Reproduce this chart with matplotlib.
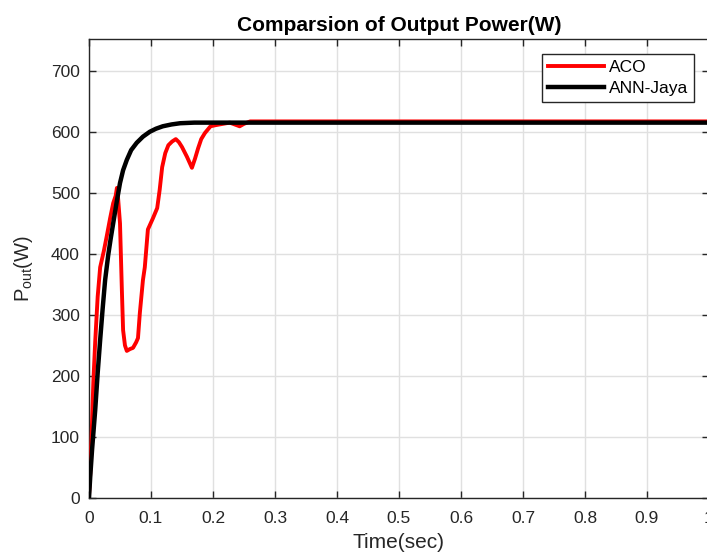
import numpy as np
import matplotlib
matplotlib.use("Agg")
import matplotlib.pyplot as plt

plt.rcParams['font.family'] = ['Liberation Sans', 'DejaVu Sans']

# ACO response
aco_t = [0.0, 0.002, 0.004, 0.007, 0.010, 0.014, 0.018, 0.024, 0.029, 0.034, 0.039, 0.043,
         0.045, 0.047, 0.050, 0.053, 0.055, 0.058, 0.061, 0.066, 0.071, 0.076, 0.079, 0.082,
         0.087, 0.090, 0.095, 0.103, 0.110, 0.114, 0.118, 0.123, 0.128, 0.134, 0.140, 0.145,
         0.150, 0.158, 0.166, 0.171, 0.176, 0.181, 0.187, 0.196, 0.205, 0.216, 0.227, 0.235,
         0.243, 0.250, 0.260, 0.280, 0.320, 0.400, 0.600, 0.800, 1.0]
aco_p = [5, 40, 95, 190, 256, 330, 378, 405, 431, 458, 483, 495,
         508, 490, 450, 341, 275, 250, 241, 244, 246, 255, 262, 303,
         357, 378, 440, 458, 475, 505, 542, 565, 578, 584, 588, 583,
         575, 559, 541, 556, 573, 588, 598, 609, 611, 613, 615, 612,
         609, 613, 617, 617, 617, 617, 617, 617, 617]

# ANN-Jaya response
ann_t = [0.0, 0.002, 0.005, 0.010, 0.014, 0.018, 0.022, 0.026, 0.031, 0.035, 0.039, 0.045,
         0.050, 0.055, 0.061, 0.068, 0.077, 0.087, 0.098, 0.108, 0.119, 0.133, 0.147, 0.170,
         0.200, 0.250, 0.300, 0.500, 0.700, 1.0]
ann_p = [0, 35, 80, 144, 205, 259, 310, 357, 398, 425, 450, 487,
         516, 537, 554, 570, 582, 592, 600, 605, 609, 612, 614, 615,
         615, 615, 615, 615, 615, 615]

fig = plt.figure(figsize=(7.07, 5.54), dpi=100)
ax = fig.add_axes([89 / 707, 1 - 498 / 554, 620 / 707, 459 / 554])

ax.plot(aco_t, aco_p, color='#ff0000', lw=2.8, label='ACO', zorder=3)
ax.plot(ann_t, ann_p, color='black', lw=3.2, label='ANN-Jaya', zorder=4)

ax.set_xlim(0, 1)
ax.set_ylim(0, 752)
ax.set_xticks(np.arange(0, 1.01, 0.1))
ax.set_xticklabels(['0', '0.1', '0.2', '0.3', '0.4', '0.5', '0.6', '0.7', '0.8', '0.9', '1'])
ax.set_yticks(range(0, 701, 100))
ax.grid(True, color='#e0e0e0', lw=1.0)
ax.set_axisbelow(True)
ax.tick_params(direction='in', top=True, right=True, labelsize=12.5,
               colors='#262626', length=5, width=1)
ax.tick_params(axis='x', pad=9.5)
ax.tick_params(axis='y', pad=6.5)
for s in ax.spines.values():
    s.set_color('#262626')
    s.set_linewidth(1)

ax.set_title('Comparsion of Output Power(W)', fontsize=15, fontweight='bold', pad=6)
ax.set_xlabel('Time(sec)', fontsize=15, color='#262626', labelpad=5)
ax.set_ylabel(r'P$_{\mathregular{out}}$(W)', fontsize=14.5, color='#262626')
ax.yaxis.set_label_coords(-0.087, 0.5)

leg = ax.legend(loc='upper left', bbox_to_anchor=((542 - 89) / 620, (498 - 54) / 459),
                fontsize=12.5, fancybox=False, framealpha=1, edgecolor='#262626',
                handlelength=3.2, borderpad=0.35, labelspacing=0.3, handletextpad=0.3,
                borderaxespad=0)
leg.get_frame().set_linewidth(1)

fig.savefig('out.png', dpi=100)
